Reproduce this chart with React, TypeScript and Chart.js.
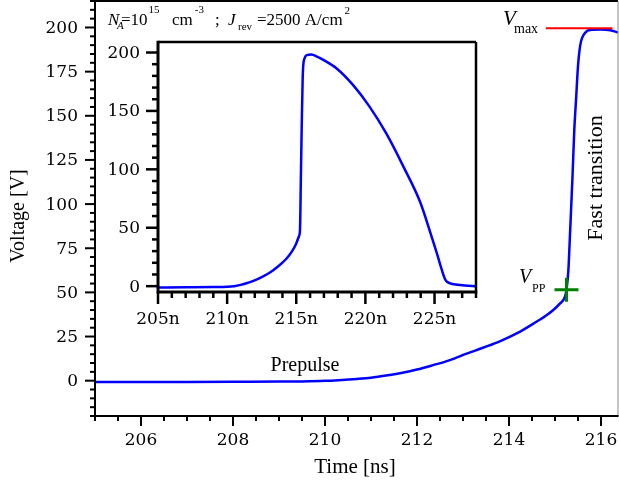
import React, { useEffect, useRef } from 'react';
import { Chart, registerables } from 'chart.js';

Chart.register(...registerables);

// ---------------- Data ----------------
const mainTimeNs = [205, 206, 207, 208, 209, 209.5, 210, 210.3, 210.7, 211, 211.4, 211.63, 212, 212.35, 212.7, 213.08, 213.45, 213.8, 214.2, 214.53, 214.8, 214.97, 215.1, 215.22, 215.25, 215.29, 215.33, 215.38, 215.42, 215.46, 215.5, 215.55, 215.65, 215.8, 216.0, 216.2, 216.37];
const mainVoltage = [-0.8, -0.8, -0.7, -0.6, -0.5, -0.4, -0.1, 0.3, 1.0, 1.7, 3.2, 4.2, 6.3, 8.8, 11.5, 15.3, 18.8, 22.3, 27.2, 32.3, 36.8, 40.2, 43.5, 47.7, 51.5, 62, 85, 115, 142, 160, 178, 190, 196.8, 198.7, 198.8, 198.4, 197.2];

const insetTimeNs = [205, 207, 209, 210, 210.5, 210.9, 211.4, 211.9, 212.5, 213.1, 213.7, 214.3, 214.7, 215.0, 215.2, 215.27, 215.33, 215.39, 215.46, 215.5, 215.6, 215.75, 216.1, 216.5, 216.96, 217.9, 219.1, 220.3, 221.5, 222.75, 223.96, 224.8, 225.2, 225.5, 225.8, 226.1, 226.4, 227.2, 228];
const insetVoltage = [-1.1, -1.0, -0.8, -0.5, 0, 0.9, 2.5, 4.6, 7.8, 11.7, 17, 23.7, 30, 36.6, 43, 48, 90, 134, 176, 188, 195, 197.7, 198.3, 196.5, 193.7, 186.6, 172.3, 153.7, 130.9, 102.3, 72, 42, 27, 15, 5.1, 2.6, 1.6, 0.6, 0];

const vppTimeNs = [215.25];
const vppVoltage = [51.5];
const vmaxTimeNs = [214.8, 216.25];
const vmaxVoltage = [199.5, 199.5];

const mainXTicks = [206, 208, 210, 212, 214, 216];
const mainYTicks = [0, 25, 50, 75, 100, 125, 150, 175, 200];
const insetXTicks = [205, 210, 215, 220, 225];
const insetYTicks = [0, 50, 100, 150, 200];
const mainXLabels = mainXTicks.map((v) => String(v));
const mainYLabels = mainYTicks.map((v) => String(v));
const insetXLabels = insetXTicks.map((v) => `${v}n`);
const insetYLabels = insetYTicks.map((v) => String(v));

const SERIF = '"Liberation Serif", "Times New Roman", serif';
const TICK_FAMILY = '"DejaVu Serif", serif';
const TICK_FONT = `17px ${TICK_FAMILY}`;

type FrameCfg = {
  xStart: number; xStep: number; xMajor: number[]; xLabels: string[]; xLabelOffset: number;
  yStart: number; yStep: number; yMajor: number[]; yLabels: string[]; yLabelOffset: number;
  majorLen: number; minorLen: number; tickWidth: number;
  axisWidth: number; topWidth: number; topColor: string; rightWidth: number; rightColor: string;
};

function drawFrame(chart: any, cfg: FrameCfg) {
  const { ctx, chartArea: a } = chart;
  const xs = chart.scales.x;
  const ys = chart.scales.y;
  ctx.save();
  ctx.lineCap = 'butt';
  ctx.strokeStyle = '#000';
  ctx.lineWidth = cfg.tickWidth;
  for (let i = 0; ; i++) {
    const v = cfg.xStart + i * cfg.xStep;
    if (v > xs.max + 1e-9) break;
    const px = xs.getPixelForValue(v);
    const major = cfg.xMajor.some((m) => Math.abs(m - v) < 1e-6);
    ctx.beginPath();
    ctx.moveTo(px, a.bottom);
    ctx.lineTo(px, a.bottom + (major ? cfg.majorLen : cfg.minorLen));
    ctx.stroke();
  }
  for (let i = 0; ; i++) {
    const v = cfg.yStart + i * cfg.yStep;
    if (v > ys.max + 1e-9) break;
    const py = ys.getPixelForValue(v);
    const major = cfg.yMajor.some((m) => Math.abs(m - v) < 1e-6);
    ctx.beginPath();
    ctx.moveTo(a.left, py);
    ctx.lineTo(a.left - (major ? cfg.majorLen : cfg.minorLen), py);
    ctx.stroke();
  }
  ctx.strokeStyle = cfg.topColor;
  ctx.lineWidth = cfg.topWidth;
  ctx.beginPath();
  ctx.moveTo(a.left, a.top);
  ctx.lineTo(a.right, a.top);
  ctx.stroke();
  ctx.strokeStyle = cfg.rightColor;
  ctx.lineWidth = cfg.rightWidth;
  ctx.beginPath();
  ctx.moveTo(a.right, a.top);
  ctx.lineTo(a.right, a.bottom);
  ctx.stroke();
  ctx.strokeStyle = '#000';
  ctx.lineWidth = cfg.axisWidth;
  ctx.beginPath();
  ctx.moveTo(a.left, a.top - cfg.topWidth / 2);
  ctx.lineTo(a.left, a.bottom);
  ctx.lineTo(a.right + cfg.rightWidth / 2, a.bottom);
  ctx.stroke();
  ctx.fillStyle = '#000';
  ctx.font = TICK_FONT;
  ctx.textAlign = 'center';
  ctx.textBaseline = 'middle';
  cfg.xMajor.forEach((v, i) => {
    ctx.fillText(cfg.xLabels[i], xs.getPixelForValue(v), a.bottom + cfg.xLabelOffset);
  });
  ctx.textAlign = 'right';
  cfg.yMajor.forEach((v, i) => {
    ctx.fillText(cfg.yLabels[i], a.left - cfg.yLabelOffset, ys.getPixelForValue(v) + 1);
  });
  ctx.restore();
}

function text(ctx: CanvasRenderingContext2D, s: string, x: number, y: number, font: string, align: CanvasTextAlign = 'left', baseline: CanvasTextBaseline = 'alphabetic') {
  ctx.font = font;
  ctx.textAlign = align;
  ctx.textBaseline = baseline;
  ctx.fillText(s, x, y);
  return x + ctx.measureText(s).width;
}

const mainDecor = {
  id: 'mainDecor',
  afterDraw(chart: any) {
    drawFrame(chart, {
      xStart: 205, xStep: 0.5, xMajor: mainXTicks, xLabels: mainXLabels, xLabelOffset: 25,
      yStart: -20, yStep: 5, yMajor: mainYTicks, yLabels: mainYLabels, yLabelOffset: 17,
      majorLen: 10, minorLen: 5, tickWidth: 2,
      axisWidth: 2, topWidth: 2, topColor: '#000', rightWidth: 1, rightColor: '#888',
    });
    const ctx: CanvasRenderingContext2D = chart.ctx;
    ctx.save();
    ctx.fillStyle = '#000';
    text(ctx, 'Time [ns]', 355, 467, `21px ${SERIF}`, 'center', 'middle');
    ctx.save();
    ctx.translate(19, 216);
    ctx.rotate(-Math.PI / 2);
    text(ctx, 'Voltage [V]', 0, 0, `20px ${SERIF}`, 'center', 'middle');
    ctx.restore();
    text(ctx, 'Prepulse', 305, 366, `20px ${SERIF}`, 'center', 'middle');
    ctx.save();
    ctx.translate(596, 178);
    ctx.rotate(-Math.PI / 2);
    text(ctx, 'Fast transition', 0, 0, `22px ${SERIF}`, 'center', 'middle');
    ctx.restore();
    text(ctx, 'V', 503, 25, `italic 21px ${SERIF}`);
    text(ctx, 'max', 514, 33, `14px ${SERIF}`);
    text(ctx, 'V', 519, 283, `italic 20px ${SERIF}`);
    text(ctx, 'PP', 532, 292, `12px ${SERIF}`);
    const big = `17px ${SERIF}`;
    const bigI = `italic 17px ${SERIF}`;
    const small = `11px ${SERIF}`;
    const smallI = `italic 11px ${SERIF}`;
    text(ctx, 'N', 108, 25, bigI);
    text(ctx, 'A', 117, 29, smallI);
    let e = text(ctx, '=10', 121, 25, big);
    text(ctx, '15', e + 1, 13, small);
    e = text(ctx, 'cm', 172, 25, big);
    text(ctx, '-3', e + 2, 13, small);
    text(ctx, ';', 215, 25, big);
    text(ctx, 'J', 228, 25, bigI);
    text(ctx, 'rev', 238, 30, small);
    e = text(ctx, '=2500 A/cm', 257, 25, big);
    text(ctx, '2', e + 2, 14, small);
    ctx.restore();
  },
};

const insetDecor = {
  id: 'insetDecor',
  beforeDraw(chart: any) {
    const { ctx, chartArea: a } = chart;
    ctx.save();
    ctx.fillStyle = '#fff';
    ctx.fillRect(a.left, a.top, a.right - a.left, a.bottom - a.top);
    ctx.restore();
  },
  afterDraw(chart: any) {
    drawFrame(chart, {
      xStart: 205, xStep: 1, xMajor: insetXTicks, xLabels: insetXLabels, xLabelOffset: 28,
      yStart: 0, yStep: 10, yMajor: insetYTicks, yLabels: insetYLabels, yLabelOffset: 18,
      majorLen: 12, minorLen: 6, tickWidth: 2.5,
      axisWidth: 3, topWidth: 2.5, topColor: '#000', rightWidth: 2.5, rightColor: '#000',
    });
  },
};

function axisOpts(min: number, max: number, fit: (s: any) => void) {
  return {
    type: 'linear',
    min,
    max,
    afterFit: fit,
    grid: { display: false, drawTicks: false },
    border: { display: false },
    ticks: { display: false },
  };
}

export default function App() {
  const mainRef = useRef<HTMLCanvasElement>(null);
  const insetRef = useRef<HTMLCanvasElement>(null);

  useEffect(() => {
    const main = new Chart(mainRef.current as HTMLCanvasElement, {
      type: 'line',
      data: {
        datasets: [
          {
            label: 'V_PP',
            data: vppTimeNs.map((t, i) => ({ x: t, y: vppVoltage[i] })),
            showLine: false,
            pointStyle: 'cross',
            pointRadius: 12,
            pointBorderWidth: 3,
            pointBorderColor: '#008000',
            borderColor: '#008000',
            order: 0,
          },
          {
            label: 'V_max',
            data: vmaxTimeNs.map((t, i) => ({ x: t, y: vmaxVoltage[i] })),
            borderColor: '#ff0000',
            borderWidth: 2,
            pointRadius: 0,
            order: 1,
          },
          {
            label: 'Voltage',
            data: mainTimeNs.map((t, i) => ({ x: t, y: mainVoltage[i] })),
            borderColor: '#0000ff',
            borderWidth: 2.5,
            pointRadius: 0,
            cubicInterpolationMode: 'monotone',
            order: 2,
          },
        ],
      } as any,
      options: {
        animation: false,
        responsive: false,
        events: [],
        layout: { autoPadding: false, padding: { top: 1, right: 1, left: 0, bottom: 0 } },
        plugins: { legend: { display: false }, tooltip: { enabled: false } },
        scales: {
          x: axisOpts(205, 216.37, (s: any) => { s.height = 71; }),
          y: axisOpts(-20, 215, (s: any) => { s.width = 95; }),
        },
      } as any,
      plugins: [mainDecor],
    });

    const inset = new Chart(insetRef.current as HTMLCanvasElement, {
      type: 'line',
      data: {
        datasets: [
          {
            label: 'Voltage (full pulse)',
            data: insetTimeNs.map((t, i) => ({ x: t, y: insetVoltage[i] })),
            borderColor: '#0000ff',
            borderWidth: 2.5,
            pointRadius: 0,
            cubicInterpolationMode: 'monotone',
          },
        ],
      } as any,
      options: {
        animation: false,
        responsive: false,
        events: [],
        layout: { autoPadding: false, padding: { top: 12, right: 14, left: 0, bottom: 0 } },
        plugins: { legend: { display: false }, tooltip: { enabled: false } },
        scales: {
          x: axisOpts(205, 228, (s: any) => { s.height = 48; }),
          y: axisOpts(-5, 209, (s: any) => { s.width = 58; }),
        },
      } as any,
      plugins: [insetDecor],
    });

    return () => {
      main.destroy();
      inset.destroy();
    };
  }, []);

  return (
    <div style={{ position: 'fixed', left: 0, top: 0, width: 619, height: 487, background: '#fff' }}>
      <canvas ref={mainRef} width={619} height={487} style={{ position: 'absolute', left: 0, top: 0, width: 619, height: 487 }} />
      <canvas ref={insetRef} width={390} height={310} style={{ position: 'absolute', left: 100, top: 30, width: 390, height: 310 }} />
    </div>
  );
}
